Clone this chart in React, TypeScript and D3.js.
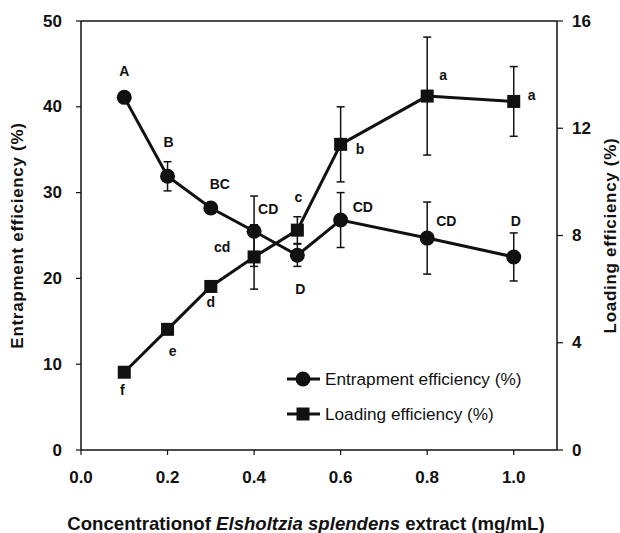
import React from "react";
import * as d3 from "d3";

const concentrations = [0.1, 0.2, 0.3, 0.4, 0.5, 0.6, 0.8, 1.0];
const entrapment = [41.1, 31.9, 28.2, 25.5, 22.7, 26.8, 24.7, 22.5];
const entrapmentErr = [0.6, 1.7, 0.5, 4.1, 1.3, 3.2, 4.2, 2.8];
const entrapmentLetters = ["A", "B", "BC", "CD", "D", "CD", "CD", "D"];
const loading = [2.9, 4.5, 6.1, 7.2, 8.2, 11.4, 13.2, 13.0];
const loadingErr = [0, 0, 0, 1.2, 0.5, 1.4, 2.2, 1.3];
const loadingLetters = ["f", "e", "d", "cd", "c", "b", "a", "a"];
const xTicks = [0.0, 0.2, 0.4, 0.6, 0.8, 1.0];
const leftTicks = [0, 10, 20, 30, 40, 50];
const rightTicks = [0, 4, 8, 12, 16];

// label offsets (layout only): [dx, dy, anchor]
const entrapOffsets: [number, number, string][] = [
  [0, -26, "middle"], [1, -34, "middle"], [9, -24, "middle"], [4, -22, "start"],
  [3, 34, "middle"], [12, -13, "start"], [9, -17, "start"], [2, -36, "middle"],
];
const loadOffsets: [number, number, string][] = [
  [-2, 18, "middle"], [5, 22, "middle"], [0, 16, "middle"], [-32, -10, "middle"],
  [1, -33, "middle"], [15, 5, "start"], [12, -21, "start"], [14, -6, "start"],
];

const W = 620, H = 533;
const L = 81, R = 557, T = 21, B = 450;
const FONT = "'Liberation Sans', Arial, Helvetica, sans-serif";
const INK = "#111";

export default function App() {
  const x = d3.scaleLinear().domain([0, 1.1]).range([L, R]);
  const yL = d3.scaleLinear().domain([0, 50]).range([B, T]);
  const yR = d3.scaleLinear().domain([0, 16]).range([B, T]);

  const lineE = d3.line<number>().x((_, i) => x(concentrations[i])).y((d) => yL(d));
  const lineL = d3.line<number>().x((_, i) => x(concentrations[i])).y((d) => yR(d));

  const sq = 13;
  const r = 7.5;

  const errBar = (cx: number, y1: number, y2: number, key: string) => (
    <g key={key} stroke={INK} strokeWidth={1.5}>
      <line x1={cx} x2={cx} y1={y1} y2={y2} />
      <line x1={cx - 4} x2={cx + 4} y1={y1} y2={y1} />
      <line x1={cx - 4} x2={cx + 4} y1={y2} y2={y2} />
    </g>
  );

  return (
    <svg width={W} height={H} style={{ position: "absolute", left: 0, top: 0, background: "#fff" }} fontFamily={FONT}>
      <rect x={0} y={0} width={W} height={H} fill="#fff" />
      {/* frame */}
      <g stroke={INK} strokeWidth={1.5} fill="none">
        <line x1={L} x2={L} y1={T} y2={B} />
        <line x1={L} x2={R} y1={B} y2={B} />
        <line x1={L} x2={R} y1={T} y2={T} />
        <line x1={R} x2={R} y1={T} y2={B} />
      </g>
      {/* left ticks */}
      {leftTicks.map((t) => (
        <g key={"l" + t}>
          <line x1={L - 5} x2={L} y1={yL(t)} y2={yL(t)} stroke={INK} strokeWidth={1.2} />
          <text x={62} y={yL(t)} textAnchor="end" dominantBaseline="central" fontSize={17} fontWeight="bold" fill={INK}>{t}</text>
        </g>
      ))}
      {/* right ticks */}
      {rightTicks.map((t) => (
        <g key={"r" + t}>
          <line x1={R} x2={R + 6} y1={yR(t)} y2={yR(t)} stroke={INK} strokeWidth={1.2} />
          <text x={572} y={yR(t)} textAnchor="start" dominantBaseline="central" fontSize={17} fontWeight="bold" fill={INK}>{t}</text>
        </g>
      ))}
      {/* x ticks */}
      {xTicks.map((t) => (
        <g key={"x" + t}>
          <line x1={x(t)} x2={x(t)} y1={B} y2={B + 5} stroke={INK} strokeWidth={1.2} />
          <text x={x(t)} y={477} textAnchor="middle" dominantBaseline="central" fontSize={17} fontWeight="bold" fill={INK}>{d3.format(".1f")(t)}</text>
        </g>
      ))}
      {/* axis titles */}
      <text transform={`translate(17,${(T + B) / 2}) rotate(-90)`} textAnchor="middle" dominantBaseline="central" fontSize={17} fontWeight="bold" letterSpacing={0.7} fill={INK}>Entrapment efficiency (%)</text>
      <text transform={`translate(610,${(T + B) / 2}) rotate(-90)`} textAnchor="middle" dominantBaseline="central" fontSize={17} fontWeight="bold" letterSpacing={0.7} fill={INK}>Loading efficiency (%)</text>
      <text x={306} y={523} textAnchor="middle" dominantBaseline="central" fontSize={18.6} fontWeight="bold" fill={INK}>
        Concentrationof <tspan fontStyle="italic">Elsholtzia splendens</tspan> extract (mg/mL)
      </text>

      {/* error bars */}
      {entrapment.map((v, i) => entrapmentErr[i] > 0 ? errBar(x(concentrations[i]), yL(v + entrapmentErr[i]), yL(v - entrapmentErr[i]), "ee" + i) : null)}
      {loading.map((v, i) => loadingErr[i] > 0 ? errBar(x(concentrations[i]), yR(v + loadingErr[i]), yR(v - loadingErr[i]), "le" + i) : null)}

      {/* lines */}
      <path d={lineE(entrapment) || ""} fill="none" stroke={INK} strokeWidth={3} />
      <path d={lineL(loading) || ""} fill="none" stroke={INK} strokeWidth={3} />

      {/* markers */}
      {entrapment.map((v, i) => (
        <circle key={"c" + i} cx={x(concentrations[i])} cy={yL(v)} r={r} fill={INK} />
      ))}
      {loading.map((v, i) => (
        <rect key={"s" + i} x={x(concentrations[i]) - sq / 2} y={yR(v) - sq / 2} width={sq} height={sq} fill={INK} />
      ))}

      {/* letters */}
      {entrapment.map((v, i) => (
        <text key={"te" + i} x={x(concentrations[i]) + entrapOffsets[i][0]} y={yL(v) + entrapOffsets[i][1]} textAnchor={entrapOffsets[i][2] as any} dominantBaseline="central" fontSize={14} fontWeight="bold" fill={INK}>{entrapmentLetters[i]}</text>
      ))}
      {loading.map((v, i) => (
        <text key={"tl" + i} x={x(concentrations[i]) + loadOffsets[i][0]} y={yR(v) + loadOffsets[i][1]} textAnchor={loadOffsets[i][2] as any} dominantBaseline="central" fontSize={14} fontWeight="bold" fill={INK}>{loadingLetters[i]}</text>
      ))}

      {/* legend */}
      <g>
        <line x1={287} x2={320} y1={379} y2={379} stroke={INK} strokeWidth={3} />
        <circle cx={303} cy={379} r={r} fill={INK} />
        <text x={325} y={379} dominantBaseline="central" fontSize={17.2} fill={INK}>Entrapment efficiency (%)</text>
        <line x1={287} x2={320} y1={414} y2={414} stroke={INK} strokeWidth={3} />
        <rect x={303 - sq / 2} y={414 - sq / 2} width={sq} height={sq} fill={INK} />
        <text x={325} y={414} dominantBaseline="central" fontSize={17.2} fill={INK}>Loading efficiency (%)</text>
      </g>
    </svg>
  );
}
